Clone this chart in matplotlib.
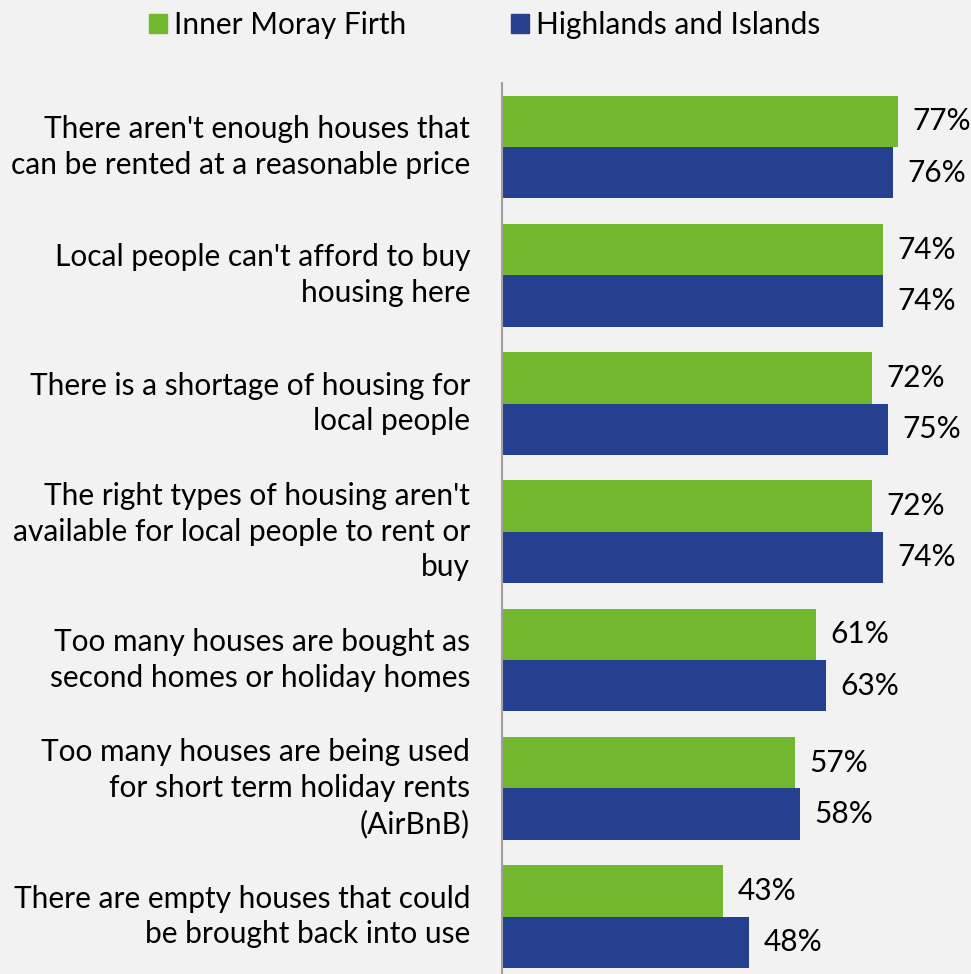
import matplotlib
matplotlib.use('Agg')
import matplotlib.pyplot as plt
import numpy as np
from matplotlib.patches import Patch

categories = [
    "There aren't enough houses that\ncan be rented at a reasonable price",
    "Local people can't afford to buy\nhousing here",
    "There is a shortage of housing for\nlocal people",
    "The right types of housing aren't\navailable for local people to rent or\nbuy",
    "Too many houses are bought as\nsecond homes or holiday homes",
    "Too many houses are being used\nfor short term holiday rents\n(AirBnB)",
    "There are empty houses that could\nbe brought back into use",
]
inner_moray = [77, 74, 72, 72, 61, 57, 43]
highlands = [76, 74, 75, 74, 63, 58, 48]
series_names = ["Inner Moray Firth", "Highlands and Islands"]

GREEN = "#72b82e"
BLUE = "#25408f"
BG = "#f2f2f2"
FONT = "Lato"
FS = 21.5

plt.rcParams['font.family'] = [FONT, 'DejaVu Sans']

fig = plt.figure(figsize=(9.71, 9.74), dpi=100, facecolor=BG)
ax = fig.add_axes([0.517, 0.0, 0.483, 0.915])
ax.set_facecolor(BG)

y = np.arange(len(categories))
h = 0.4
ax.barh(y - h / 2, inner_moray, height=h, color=GREEN)
ax.barh(y + h / 2, highlands, height=h, color=BLUE)

for yi, v in zip(y - h / 2, inner_moray):
    ax.text(v + 2.8, yi, f"{v}%", va="center", ha="left", fontsize=FS)
for yi, v in zip(y + h / 2, highlands):
    ax.text(v + 2.8, yi, f"{v}%", va="center", ha="left", fontsize=FS)

ax.set_xlim(0, 91.2)
ax.set_ylim(6.447, -0.5)
ax.set_yticks(y)
ax.set_yticklabels(categories, fontsize=FS, ha="right", va="center",
                   linespacing=1.33)
ax.tick_params(axis="y", length=0, pad=23)
ax.set_xticks([])
for s in ["top", "right", "bottom"]:
    ax.spines[s].set_visible(False)
ax.spines["left"].set_color("#a0a0a0")
ax.spines["left"].set_linewidth(1.5)

handles = [Patch(color=GREEN), Patch(color=BLUE)]
fig.legend(handles, series_names, loc="center", bbox_to_anchor=(0.499, 0.974),
           ncol=2, frameon=False, fontsize=FS, handlelength=0.6,
           handleheight=0.6, handletextpad=0.25, columnspacing=3.5)

fig.savefig("out.png", dpi=100, facecolor=BG)
